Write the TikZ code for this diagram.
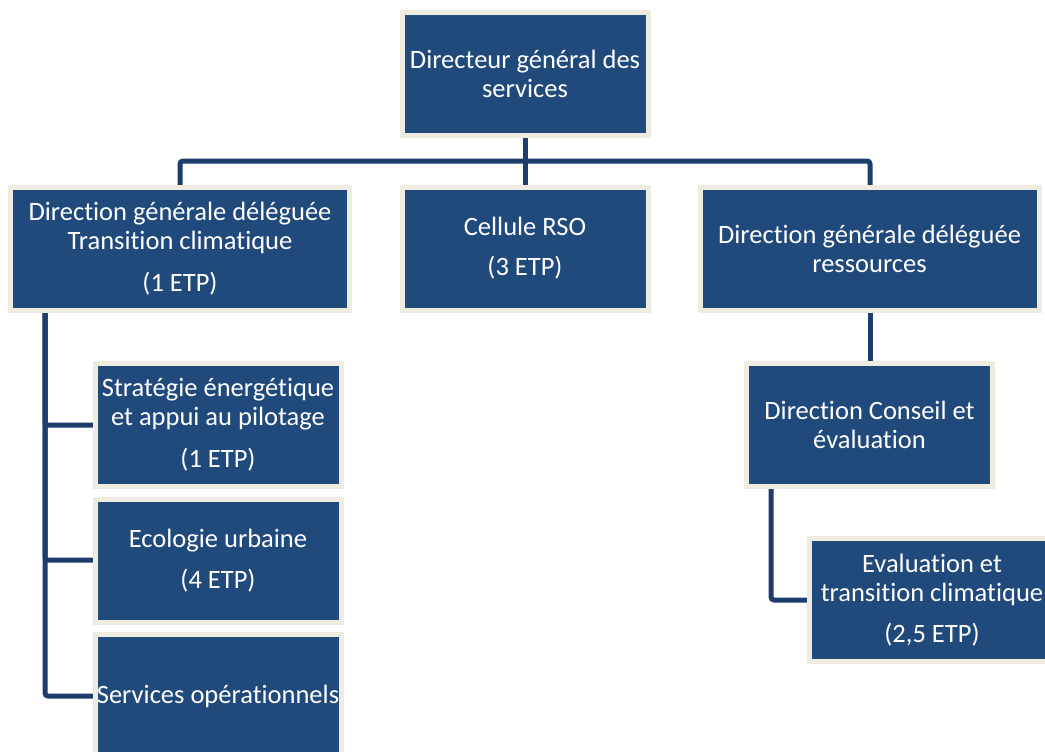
\documentclass[tikz,border=0pt]{standalone}
\usepackage{fontspec}
\setmainfont[Ligatures=NoCommon]{Carlito}
\definecolor{boxblue}{HTML}{214A7C}
\definecolor{boxrim}{HTML}{EEECE1}
\definecolor{linkblue}{HTML}{1D3E6C}
\tikzset{
    unit/.style={rectangle, fill=boxblue, draw=boxrim, line width=5pt, text=white,
        align=center, inner sep=0pt, minimum height=123pt,
        font=\fontsize{26.5}{29}\selectfont},
    narrowunit/.style={unit, minimum width=246pt},
    wideunit/.style={unit, minimum width=339pt},
    link/.style={draw=linkblue, line width=5pt, rounded corners=3pt}
}
\begin{document}
\begin{tikzpicture}[x=1pt, y=-1pt]
    % Canvas
    \fill[white] (0,0) rectangle (1045,752);
    \useasboundingbox (0,0) rectangle (1045,752);
    \clip (0,0) rectangle (1045,752);

    % Links (drawn first, boxes cover them)
    \coordinate (bus) at (525,161);
    \coordinate (spine) at (45,313);
    \coordinate (dceleg) at (771,489);
    \path[link] (525,74) -- (525,248);
    \path[link] (180,248) |- (bus) -| (870,248);
    \path[link] (spine) |- (218,425);
    \path[link] (spine) |- (218,560);
    \path[link] (spine) |- (218,696);
    \path[link] (870,248) -- (870,425);
    \path[link] (dceleg) |- (932,600);

    % Top
    \node[narrowunit] (dgs) at (525,74) {Directeur général des\\services};

    % Level 1
    \node[wideunit] (dgtc) at (180,248.5) {Direction générale déléguée\\Transition climatique\\[13pt](1 ETP)};
    \node[narrowunit] (rso) at (525,248.5) {Cellule RSO\\[11pt](3 ETP)};
    \node[wideunit] (dgr) at (869.5,248.5) {Direction générale déléguée\\ressources};

    % Transition climatique
    \node[narrowunit] (strat) at (218,425) {Stratégie énergétique\\et appui au pilotage\\[13pt](1 ETP)};
    \node[narrowunit] (eco) at (218,560.5) {Ecologie urbaine\\[12pt](4 ETP)};
    \node[narrowunit] (servop) at (218,696) {Services opérationnels};

    % Ressources
    \node[narrowunit] (dce) at (869.5,425) {Direction Conseil et\\évaluation};
    \node[narrowunit] (evtc) at (932,600) {Evaluation et\\transition climatique\\[12pt](2,5 ETP)};
\end{tikzpicture}
\end{document}
